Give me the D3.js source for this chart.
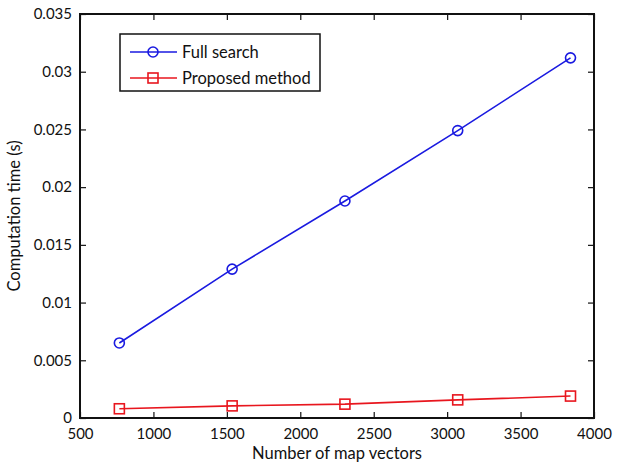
<!DOCTYPE html>
<html>
<head>
<meta charset="utf-8">
<script src="https://cdn.jsdelivr.net/npm/d3@7"></script>
<style>
  body { margin: 0; background: #fff; }
  text { font-family: Lato, "Open Sans", sans-serif; fill: #111; }
</style>
</head>
<body>
<div class="vis-chart"></div>
<script>
const mapVectors = [768, 1536, 2304, 3072, 3840];
const fullSearch = [0.0065, 0.0129, 0.0188, 0.0249, 0.0312];
const proposed = [0.0008, 0.00105, 0.0012, 0.00157, 0.0019];
const xTicks = [500, 1000, 1500, 2000, 2500, 3000, 3500, 4000];
const yTicks = [0, 0.005, 0.01, 0.015, 0.02, 0.025, 0.03, 0.035];
const seriesNames = ['Full search', 'Proposed method'];

const margin = { top: 14, right: 23, bottom: 45, left: 80 };
const width = 617 - margin.left - margin.right;
const height = 463 - margin.top - margin.bottom;

const svg = d3.select('.vis-chart')
  .append('svg')
  .attr('width', 617)
  .attr('height', 463)
  .append('g')
  .attr('transform', `translate(${margin.left},${margin.top})`);

const x = d3.scaleLinear().domain([500, 4000]).range([0, width]);
const y = d3.scaleLinear().domain([0, 0.035]).range([height, 0]);

const fmt = (d) => (d === 0 ? '0' : String(+d.toFixed(3)));

// axes, ticks drawn inward like matlab
const styleAxis = (g) => {
  g.select('.domain').remove();
  g.selectAll('.tick line').attr('stroke', '#111').attr('stroke-width', 1.2);
  g.selectAll('.tick text').style('font-size', '15px');
};

svg.append('g')
  .attr('transform', `translate(0,${height})`)
  .call(d3.axisBottom(x).tickValues(xTicks).tickSize(-6).tickPadding(10).tickFormat((d) => d))
  .call(styleAxis);

svg.append('g')
  .call(d3.axisTop(x).tickValues(xTicks).tickSize(-6).tickFormat(''))
  .call(styleAxis);

svg.append('g')
  .call(d3.axisLeft(y).tickValues(yTicks).tickSize(-6).tickPadding(8).tickFormat(fmt))
  .call(styleAxis);

svg.append('g')
  .attr('transform', `translate(${width},0)`)
  .call(d3.axisRight(y).tickValues(yTicks).tickSize(-6).tickFormat(''))
  .call(styleAxis);

// box
svg.append('rect')
  .attr('width', width)
  .attr('height', height)
  .attr('fill', 'none')
  .attr('stroke', '#111')
  .attr('stroke-width', 2);

// series
const line = d3.line().x((d) => x(d[0])).y((d) => y(d[1]));
const blueData = mapVectors.map((v, i) => [v, fullSearch[i]]);
const redData = mapVectors.map((v, i) => [v, proposed[i]]);

svg.append('path').datum(blueData).attr('d', line)
  .attr('fill', 'none').attr('stroke', '#1a1ae0').attr('stroke-width', 1.6);
svg.selectAll('.pt-blue').data(blueData).enter().append('circle')
  .attr('class', 'pt-blue')
  .attr('cx', (d) => x(d[0])).attr('cy', (d) => y(d[1])).attr('r', 5)
  .attr('fill', 'none').attr('stroke', '#1a1ae0').attr('stroke-width', 1.6);

svg.append('path').datum(redData).attr('d', line)
  .attr('fill', 'none').attr('stroke', '#e8161e').attr('stroke-width', 1.6);
svg.selectAll('.pt-red').data(redData).enter().append('rect')
  .attr('class', 'pt-red')
  .attr('x', (d) => x(d[0]) - 5).attr('y', (d) => y(d[1]) - 5)
  .attr('width', 10).attr('height', 10)
  .attr('fill', 'none').attr('stroke', '#e8161e').attr('stroke-width', 1.6);

// legend
const legend = svg.append('g').attr('transform', 'translate(40,20)');
legend.append('rect')
  .attr('width', 200).attr('height', 57)
  .attr('fill', '#fff').attr('stroke', '#111').attr('stroke-width', 1.5);
const colors = ['#1a1ae0', '#e8161e'];
seriesNames.forEach((name, i) => {
  const row = legend.append('g').attr('transform', `translate(0,${18 + i * 26})`);
  row.append('line').attr('x1', 10).attr('x2', 57)
    .attr('stroke', colors[i]).attr('stroke-width', 1.6);
  if (i === 0) {
    row.append('circle').attr('cx', 33).attr('r', 5)
      .attr('fill', 'none').attr('stroke', colors[i]).attr('stroke-width', 1.6);
  } else {
    row.append('rect').attr('x', 28).attr('y', -5).attr('width', 10).attr('height', 10)
      .attr('fill', 'none').attr('stroke', colors[i]).attr('stroke-width', 1.6);
  }
  row.append('text').attr('x', 62).attr('dy', '0.35em')
    .style('font-size', '16.5px').text(name);
});

// axis titles
svg.append('text')
  .attr('x', width / 2).attr('y', height + 41)
  .attr('text-anchor', 'middle').style('font-size', '16.5px')
  .text('Number of map vectors');

svg.append('text')
  .attr('transform', `translate(-60,${height / 2}) rotate(-90)`)
  .attr('text-anchor', 'middle').style('font-size', '16.5px')
  .text('Computation time (s)');
</script>
</body>
</html>
